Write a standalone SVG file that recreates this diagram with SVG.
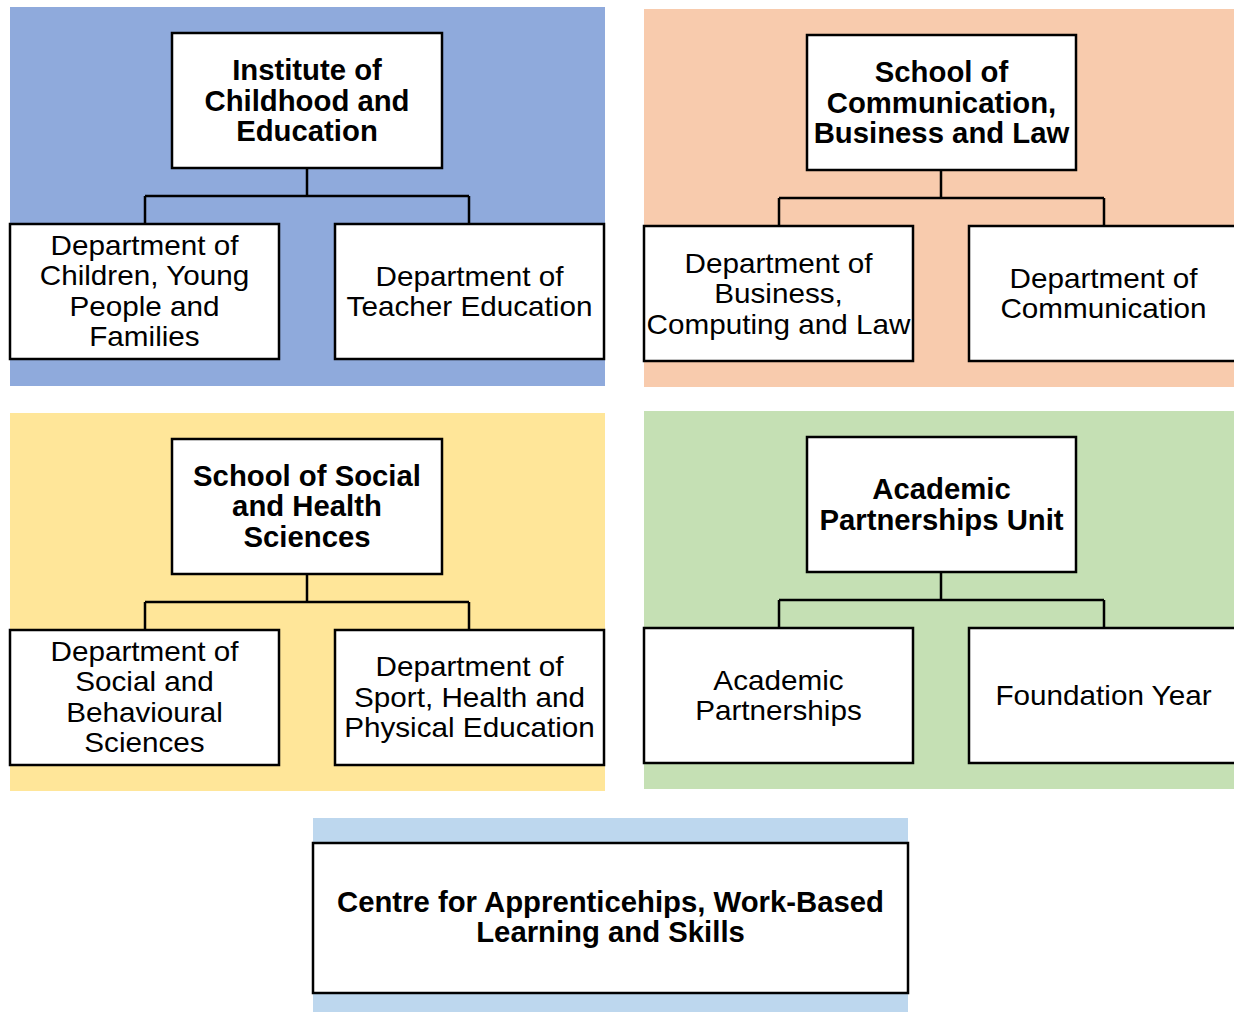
<svg xmlns="http://www.w3.org/2000/svg" width="1234" height="1012" viewBox="0 0 1234 1012">
  <style>
    .box { fill: #ffffff; stroke: #000000; stroke-width: 2.5; }
    .wire { fill: none; stroke: #000000; stroke-width: 2.5; }
    .head { font-family: "Liberation Sans", Arial, sans-serif; font-weight: bold; font-size: 29.3px; text-anchor: middle; fill: #000000; }
    .dept { font-family: "Liberation Sans", Arial, sans-serif; font-size: 28px; text-anchor: middle; fill: #000000; }
  </style>
  <rect width="1234" height="1012" fill="#ffffff"/>

  <!-- coloured bands behind each unit -->
  <g id="bands">
    <rect x="10" y="7" width="595" height="379" fill="#8FAADC"/>
    <rect x="644" y="9" width="590" height="378" fill="#F8CBAD"/>
    <rect x="10" y="413" width="595" height="378" fill="#FFE699"/>
    <rect x="644" y="411" width="590" height="378" fill="#C5E0B4"/>
    <rect x="313" y="818" width="595" height="194" fill="#BDD7EE"/>
  </g>

  <!-- elbow connectors from each head to its departments -->
  <g id="connectors" class="wire">
    <path d="M307 168 V196 M145 196 H469 M145 196 V224 M469 196 V224"/>
    <path d="M941 170 V198 M779 198 H1104 M779 198 V226 M1104 198 V226"/>
    <path d="M307 574 V602 M145 602 H469 M145 602 V630 M469 602 V630"/>
    <path d="M941 572 V600 M779 600 H1104 M779 600 V628 M1104 600 V628"/>
  </g>

  <!-- Institute of Childhood and Education -->
  <g id="ice">
    <rect class="box" x="172" y="33" width="270" height="135"/>
    <text class="head"><tspan x="307" y="80">Institute of</tspan><tspan x="307" y="110.5">Childhood and</tspan><tspan x="307" y="141">Education</tspan></text>
  </g>
  <g id="ice-cypf">
    <rect class="box" x="10" y="224" width="269" height="135"/>
    <text class="dept" transform="matrix(1.06 0 0 1 -8.67 0)"><tspan x="144.5" y="255">Department of</tspan><tspan x="144.5" y="285.5">Children, Young</tspan><tspan x="144.5" y="316">People and</tspan><tspan x="144.5" y="346.5">Families</tspan></text>
  </g>
  <g id="ice-te">
    <rect class="box" x="335" y="224" width="269" height="135"/>
    <text class="dept" transform="matrix(1.06 0 0 1 -28.17 0)"><tspan x="469.5" y="286">Department of</tspan><tspan x="469.5" y="316.5">Teacher Education</tspan></text>
  </g>

  <!-- School of Communication, Business and Law -->
  <g id="scbl">
    <rect class="box" x="807" y="35" width="269" height="135"/>
    <text class="head"><tspan x="941.5" y="82">School of</tspan><tspan x="941.5" y="112.5">Communication,</tspan><tspan x="941.5" y="143">Business and Law</tspan></text>
  </g>
  <g id="scbl-bcl">
    <rect class="box" x="644" y="226" width="269" height="135"/>
    <text class="dept" transform="matrix(1.06 0 0 1 -46.71 0)"><tspan x="778.5" y="273">Department of</tspan><tspan x="778.5" y="303.5">Business,</tspan><tspan x="778.5" y="334">Computing and Law</tspan></text>
  </g>
  <g id="scbl-comm">
    <rect class="box" x="969" y="226" width="269" height="135"/>
    <text class="dept" transform="matrix(1.06 0 0 1 -66.21 0)"><tspan x="1103.5" y="288">Department of</tspan><tspan x="1103.5" y="318.5">Communication</tspan></text>
  </g>

  <!-- School of Social and Health Sciences -->
  <g id="sshs">
    <rect class="box" x="172" y="439" width="270" height="135"/>
    <text class="head"><tspan x="307" y="485.5">School of Social</tspan><tspan x="307" y="516">and Health</tspan><tspan x="307" y="546.5">Sciences</tspan></text>
  </g>
  <g id="sshs-sbs">
    <rect class="box" x="10" y="630" width="269" height="135"/>
    <text class="dept" transform="matrix(1.06 0 0 1 -8.67 0)"><tspan x="144.5" y="661">Department of</tspan><tspan x="144.5" y="691.5">Social and</tspan><tspan x="144.5" y="722">Behavioural</tspan><tspan x="144.5" y="752.5">Sciences</tspan></text>
  </g>
  <g id="sshs-shpe">
    <rect class="box" x="335" y="630" width="269" height="135"/>
    <text class="dept" transform="matrix(1.06 0 0 1 -28.17 0)"><tspan x="469.5" y="676.5">Department of</tspan><tspan x="469.5" y="707">Sport, Health and</tspan><tspan x="469.5" y="737.5">Physical Education</tspan></text>
  </g>

  <!-- Academic Partnerships Unit -->
  <g id="apu">
    <rect class="box" x="807" y="437" width="269" height="135"/>
    <text class="head"><tspan x="941.5" y="499">Academic</tspan><tspan x="941.5" y="529.5">Partnerships Unit</tspan></text>
  </g>
  <g id="apu-ap">
    <rect class="box" x="644" y="628" width="269" height="135"/>
    <text class="dept" transform="matrix(1.06 0 0 1 -46.71 0)"><tspan x="778.5" y="690">Academic</tspan><tspan x="778.5" y="720.5">Partnerships</tspan></text>
  </g>
  <g id="apu-fy">
    <rect class="box" x="969" y="628" width="269" height="135"/>
    <text class="dept" transform="matrix(1.06 0 0 1 -66.21 0)"><tspan x="1103.5" y="705">Foundation Year</tspan></text>
  </g>

  <!-- Centre for Apprenticeships, Work-Based Learning and Skills -->
  <g id="cawbls">
    <rect class="box" x="313" y="843" width="595" height="150"/>
    <text class="head"><tspan x="610.5" y="912">Centre for Apprenticehips, Work-Based</tspan><tspan x="610.5" y="942">Learning and Skills</tspan></text>
  </g>
</svg>
